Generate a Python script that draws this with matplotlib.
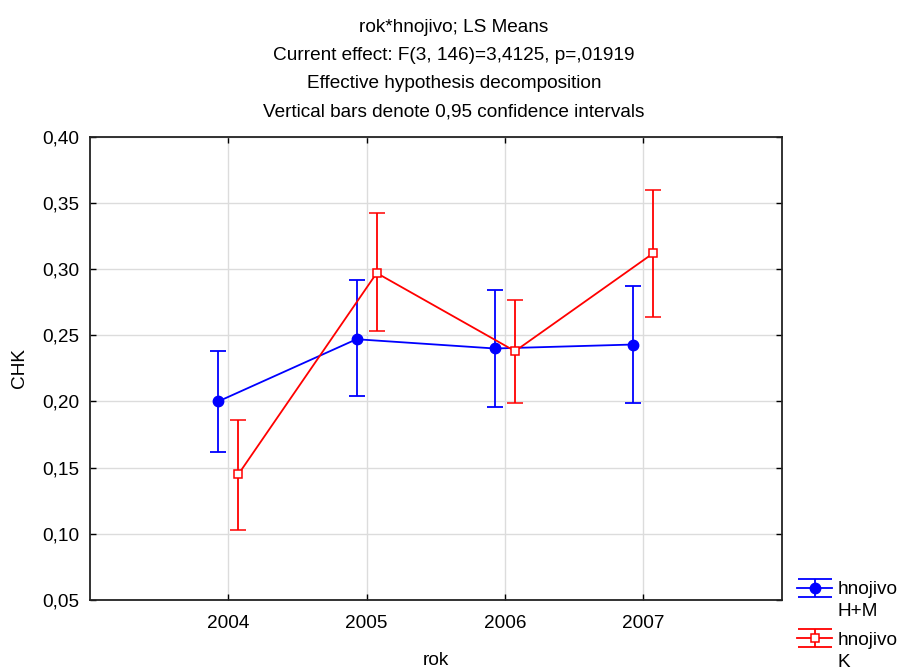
import matplotlib
matplotlib.use("Agg")
import matplotlib.pyplot as plt
from matplotlib.lines import Line2D
from matplotlib.path import Path
import numpy as np

plt.rcParams['font.family'] = ['Liberation Sans', 'DejaVu Sans']

# LS means of CHK by year and fertiliser, with 0.95 confidence limits
roky = ['2004', '2005', '2006', '2007']
hm_mean = [0.200, 0.247, 0.240, 0.243]
hm_low = [0.162, 0.204, 0.196, 0.199]
hm_high = [0.238, 0.292, 0.284, 0.287]
k_mean = [0.145, 0.297, 0.238, 0.312]
k_low = [0.103, 0.253, 0.199, 0.264]
k_high = [0.186, 0.342, 0.277, 0.360]

title_lines = ['rok*hnojivo; LS Means',
               'Current effect: F(3, 146)=3,4125, p=,01919',
               'Effective hypothesis decomposition',
               'Vertical bars denote 0,95 confidence intervals']

FS = 13.7
BLUE = '#0000ff'
RED = '#ff0000'

fig = plt.figure(figsize=(8.99, 6.71), dpi=100)
ax = fig.add_axes([90 / 899, 71 / 671, 691.5 / 899, 463.3 / 671])

x = np.arange(len(roky))
shift = 0.073

hm_style = dict(color=BLUE, lw=1.3, marker='o', ms=7.5, mfc=BLUE, mec=BLUE)
k_style = dict(color=RED, lw=1.3, marker='s', ms=6.3, mfc='white', mec=RED,
               mew=1.1)


def err(mean, low, high):
    mean = np.array(mean)
    return [mean - np.array(low), np.array(high) - mean]


ax.errorbar(x - shift, hm_mean, yerr=err(hm_mean, hm_low, hm_high),
            capsize=5.5, capthick=1.3, elinewidth=1.3, zorder=3, **hm_style)
ax.errorbar(x + shift, k_mean, yerr=err(k_mean, k_low, k_high),
            capsize=5.5, capthick=1.3, elinewidth=1.3, zorder=4, **k_style)

ax.set_xlim(-1, 4)
ax.set_ylim(0.05, 0.40)
ax.set_xticks(x)
ax.set_xticklabels(roky)
yt = np.arange(0.05, 0.401, 0.05)
ax.set_yticks(yt)
ax.set_yticklabels(['{:.2f}'.format(v).replace('.', ',') for v in yt])
ax.grid(True, color='#dcdcdc', lw=1.0, zorder=0)
ax.set_axisbelow(True)
ax.tick_params(direction='in', length=4, width=1, labelsize=FS,
               top=True, right=True, pad=8)
ax.tick_params(axis='x', pad=11)
for s in ax.spines.values():
    s.set_linewidth(1.3)
    s.set_color('#222222')

ax.set_xlabel('rok', fontsize=FS, labelpad=14)
ax.set_ylabel('CHK', fontsize=FS, labelpad=10)

for i, line in enumerate(title_lines):
    fig.text(0.505, 1 - (28 + 28 * i) / 671, line, ha='center', va='center',
             fontsize=FS)

# legend key: line + point overlaid with a wide "I" shaped error bar
ibeam = Path([(-1, 0.53), (1, 0.53), (0, 0.53), (0, -0.53), (-1, -0.53),
              (1, -0.53)],
             [Path.MOVETO, Path.LINETO, Path.MOVETO, Path.LINETO,
              Path.MOVETO, Path.LINETO])


def key(style, color):
    pt = Line2D([], [], **style)
    bar = Line2D([], [], ls='none', marker=ibeam, ms=25, mew=1.3,
                 mec=color, mfc='none')
    return (bar, pt)


leg = fig.legend([key(hm_style, BLUE), key(k_style, RED)],
                 ['hnojivo', 'hnojivo'], loc='upper left',
                 bbox_to_anchor=(797 / 899, 1 - 581 / 671), frameon=False,
                 fontsize=FS, handlelength=1.85, handletextpad=0.3,
                 labelspacing=1.75, borderpad=0, borderaxespad=0)

# second line of each legend label sits under the first one
fig.canvas.draw()
inv = fig.transFigure.inverted()
for t, extra in zip(leg.get_texts(), ['H+M', 'K']):
    bb = t.get_window_extent()
    x0, y0 = inv.transform((bb.x0, bb.y0 - 5))
    fig.text(x0, y0, extra, ha='left', va='top', fontsize=FS)

fig.savefig('out.png', dpi=100)
